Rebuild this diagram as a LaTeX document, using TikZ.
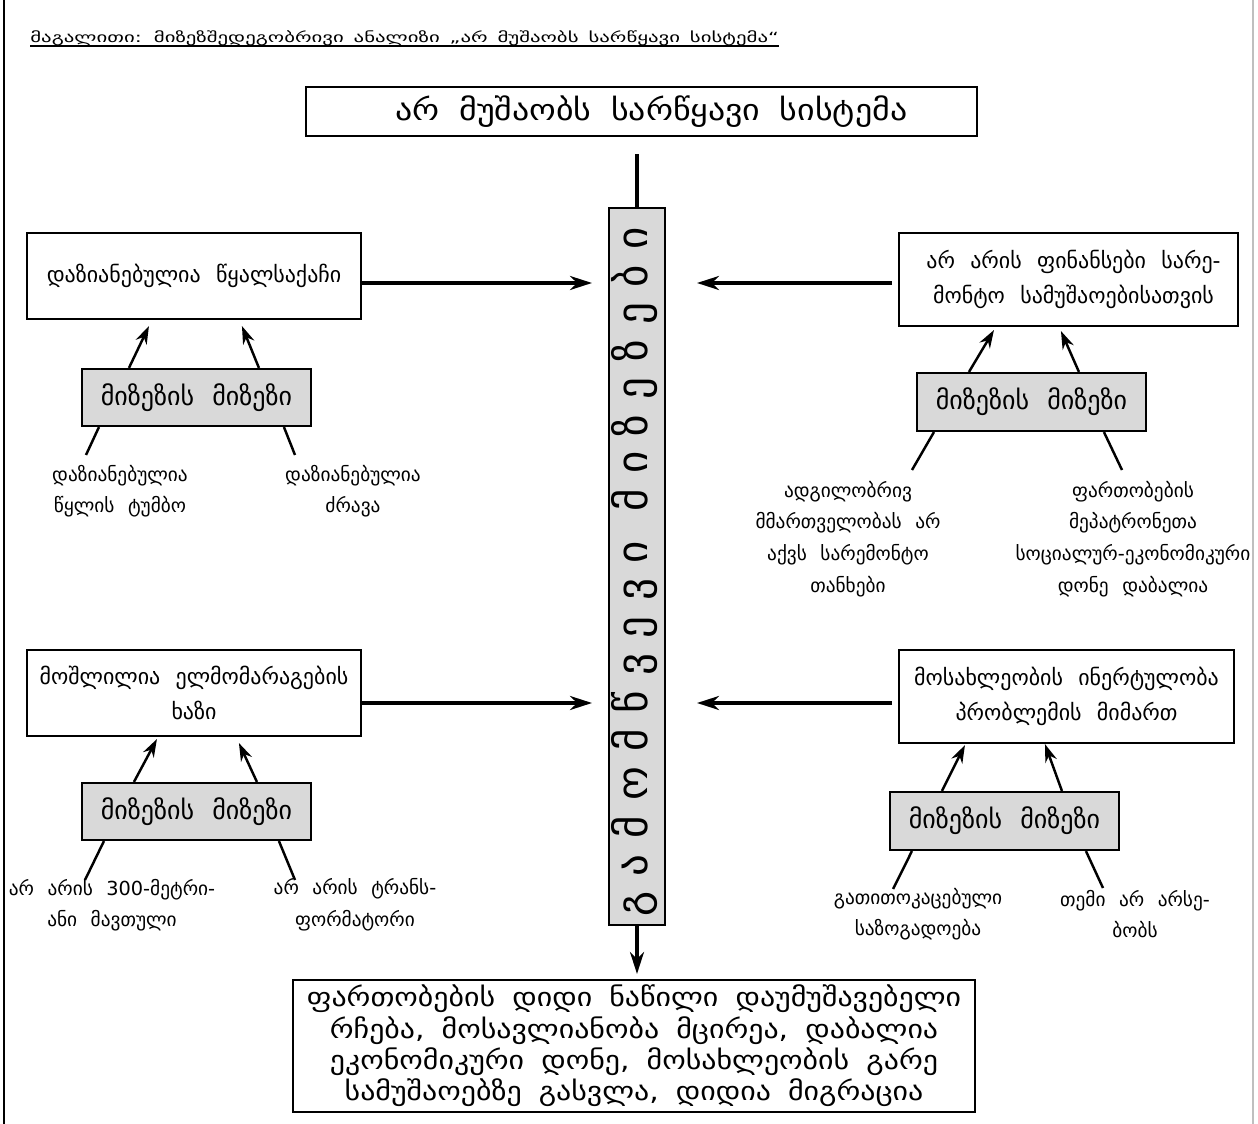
\documentclass[tikz,border=0pt]{standalone}
\usepackage{fontspec}
\setmainfont{DejaVu Sans}
\newfontfamily\bodyf[WordSpace=2.2]{DejaVu Sans}
\newfontfamily\widef[FakeStretch=1.15,WordSpace=1.8]{DejaVu Sans}
\newfontfamily\titlef[FakeStretch=1.48,WordSpace=1.5]{DejaVu Sans}
\newfontfamily\spinef[LetterSpace=36]{DejaVu Sans}
\usetikzlibrary{arrows.meta}
\definecolor{boxgray}{HTML}{D9D9D9}
\begin{document}
\begin{tikzpicture}[x=0.02cm,y=-0.02cm,
  box/.style={draw,line width=1.2pt,align=center,inner sep=0pt,font=\bodyf\fontsize{12.5}{19.8}\selectfont},
  gbox/.style={box,fill=boxgray,font=\bodyf\fontsize{14.8}{16}\selectfont},
  bigbox/.style={draw,line width=1.2pt,align=center,inner sep=0pt},
  leaf/.style={align=center,inner sep=0pt,font=\bodyf\fontsize{11}{18}\selectfont},
  thickln/.style={line width=2.4pt},
  bigarr/.style={line width=2.4pt,-{Stealth[length=0.44cm,width=0.28cm]}},
  smallarr/.style={line width=1.4pt,-{Stealth[length=0.36cm,width=0.24cm]}},
  plainln/.style={line width=1.4pt}]
\useasboundingbox (0,0) rectangle (1258,1124);
% frame
\draw[line width=1.2pt] (4,0) -- (4,1124);
\draw[black!25,line width=1pt] (1253,0) -- (1253,1124);
% title
\node[anchor=base west,inner sep=0pt,font=\titlef\fontsize{8}{9}\selectfont] (title) at (30,43)
  {მაგალითი: მიზეზშედეგობრივი ანალიზი „არ მუშაობს სარწყავი სისტემა“};
\draw[line width=0.8pt] ([yshift=-1.7pt]title.base west) -- ([yshift=-1.7pt]title.base east);
% main boxes
\node[bigbox,minimum width=13.42cm,minimum height=0.98cm,font=\widef\fontsize{16.8}{18}\selectfont] (top) at (641.5,111.5) {\hspace*{0.4cm}არ მუშაობს სარწყავი სისტემა};
\node[gbox,minimum width=1.12cm,minimum height=14.34cm] (spine) at (637,566.5) {};
\node[rotate=90,inner sep=0pt,font=\spinef\fontsize{24.5}{26}\selectfont] (spinetxt) at (635,572) {გამომწვევი მიზეზები};
\node[bigbox,minimum width=13.64cm,minimum height=2.64cm,font=\widef\fontsize{14.8}{17.9}\selectfont] (bot) at (634,1046)
  {ფართობების დიდი ნაწილი დაუმუშავებელი\\რჩება, მოსავლიანობა მცირეა, დაბალია\\ეკონომიკური დონე, მოსახლეობის გარე\\სამუშაოებზე გასვლა, დიდია მიგრაცია};
% cause boxes
\node[box,minimum width=6.68cm,minimum height=1.72cm] (L1) at (194,276) {დაზიანებულია წყალსაქაჩი};
\node[box,minimum width=6.78cm,minimum height=1.86cm] (R1) at (1068.5,279.5) {\hspace*{0.2cm}არ არის ფინანსები სარე-\\\hspace*{0.2cm}მონტო სამუშაოებისათვის};
\node[box,minimum width=6.68cm,minimum height=1.72cm] (L2) at (194,693) {მოშლილია ელმომარაგების\\ხაზი};
\node[box,minimum width=6.7cm,minimum height=1.86cm] (R2) at (1066.5,696.5) {მოსახლეობის ინერტულობა\\პრობლემის მიმართ};
% cause-of-cause boxes
\node[gbox,minimum width=4.58cm,minimum height=1.14cm] (gL1) at (196.5,397.5) {მიზეზის მიზეზი};
\node[gbox,minimum width=4.58cm,minimum height=1.16cm] (gR1) at (1031.5,402) {მიზეზის მიზეზი};
\node[gbox,minimum width=4.58cm,minimum height=1.14cm] (gL2) at (196.5,811.5) {მიზეზის მიზეზი};
\node[gbox,minimum width=4.58cm,minimum height=1.16cm] (gR2) at (1004.5,821) {მიზეზის მიზეზი};
% leaves
\node[leaf] (lL1a) at (120,491) {დაზიანებულია\\წყლის ტუმბო};
\node[leaf] (lL1b) at (353,491) {დაზიანებულია\\ძრავა};
\node[leaf] (lR1a) at (848,539) {ადგილობრივ\\მმართველობას არ\\აქვს სარემონტო\\თანხები};
\node[leaf] (lR1b) at (1133,539) {ფართობების\\მეპატრონეთა\\სოციალურ-ეკონომიკური\\დონე დაბალია};
\node[leaf] (lL2a) at (112,905) {არ არის 300-მეტრი-\\ანი მავთული};
\node[leaf] (lL2b) at (355,905) {არ არის ტრანს-\\ფორმატორი};
\node[leaf] (lR2a) at (918,914) {გათითოკაცებული\\საზოგადოება};
\node[leaf] (lR2b) at (1135,914) {თემი არ არსე-\\ბობს};
% connector end points
\coordinate (t1) at (592,283);
\coordinate (t2) at (697,283);
\coordinate (t3) at (592,703);
\coordinate (t4) at (697,703);
\coordinate (e1) at (86,455);
\coordinate (e2) at (295,455);
\coordinate (e3) at (912,470);
\coordinate (e4) at (1122,470);
\coordinate (e5) at (85,880);
\coordinate (e6) at (295,880);
\coordinate (e7) at (893,889);
\coordinate (e8) at (1103,888);
% spine connectors
\draw[thickln,shorten <=0.34cm] (top.south -| spine.north) -- (spine.north);
\draw[bigarr,shorten >=0.1cm] (spine.south) -- (spine.south |- bot.north);
\draw[bigarr] (L1.east |- t1) -- (t1);
\draw[bigarr,shorten <=0.12cm] (R1.west |- t2) -- (t2);
\draw[bigarr] (L2.east |- t3) -- (t3);
\draw[bigarr,shorten <=0.12cm] (R2.west |- t4) -- (t4);
% cause-of-cause arrows
\draw[smallarr] ([xshift=0.96cm]gL1.north west) -- ([xshift=2.46cm,yshift=-0.12cm]L1.south west);
\draw[smallarr] ([xshift=3.56cm]gL1.north west) -- ([xshift=4.32cm,yshift=-0.12cm]L1.south west);
\draw[smallarr] ([xshift=1.06cm]gR1.north west) -- ([xshift=1.92cm,yshift=-0.06cm]R1.south west);
\draw[smallarr] ([xshift=3.26cm]gR1.north west) -- ([xshift=3.26cm,yshift=-0.08cm]R1.south west);
\draw[smallarr] ([xshift=1.06cm]gL2.north west) -- ([xshift=2.62cm,yshift=-0.04cm]L2.south west);
\draw[smallarr] ([xshift=3.52cm]gL2.north west) -- ([xshift=4.26cm,yshift=-0.12cm]L2.south west);
\draw[smallarr] ([xshift=1.06cm]gR2.north west) -- ([xshift=1.34cm,yshift=-0.02cm]R2.south west);
\draw[smallarr] ([xshift=3.46cm]gR2.north west) -- ([xshift=2.94cm]R2.south west);
% lines to leaves
\draw[plainln] ([xshift=0.36cm]gL1.south west) -- (e1);
\draw[plainln] ([xshift=4.06cm]gL1.south west) -- (e2);
\draw[plainln] ([xshift=0.36cm]gR1.south west) -- (e3);
\draw[plainln] ([xshift=3.76cm]gR1.south west) -- (e4);
\draw[plainln] ([xshift=0.46cm]gL2.south west) -- (e5);
\draw[plainln] ([xshift=3.96cm]gL2.south west) -- (e6);
\draw[plainln] ([xshift=0.46cm]gR2.south west) -- (e7);
\draw[plainln] ([xshift=3.94cm]gR2.south west) -- (e8);
\end{tikzpicture}
\end{document}
